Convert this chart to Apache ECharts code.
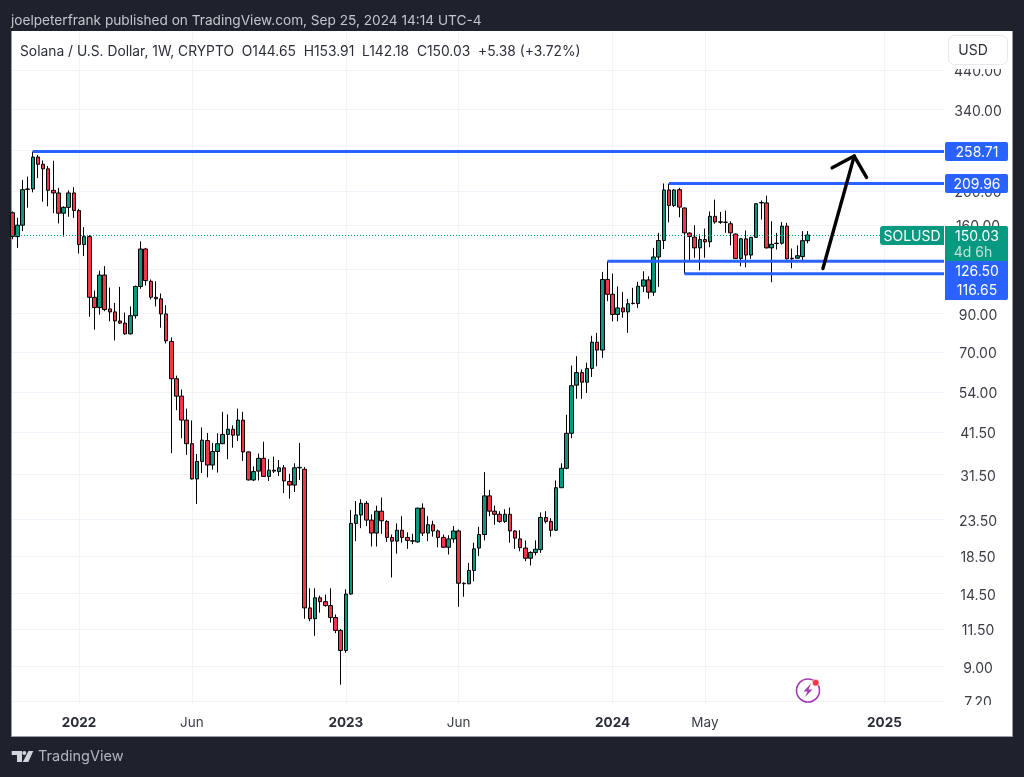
<!DOCTYPE html>
<html>
<head>
<meta charset="utf-8">
<style>
html,body{margin:0;padding:0;background:#1e222d;width:1024px;height:777px;overflow:hidden}
#panel{position:absolute;left:11px;top:31px;width:1000px;height:705px;background:#fff;border:1px solid #9a9da6;border-top:none;border-right-color:#9a9da6}
#chart{position:absolute;left:0;top:0;width:1024px;height:777px}
</style>
<script src="https://cdn.jsdelivr.net/npm/echarts@6/dist/echarts.min.js"></script>
</head>
<body>
<div id="panel"></div>
<div id="chart"></div>
<script>
// Weeks are counted from the first week of January 2022.
const firstWeek = -13;
const opens = [
173.5,148.5,160,202,202.6,249.4,238,231,200.8,197.4,
173,179.7,197.4,176,141,148.5,100,93.5,115.6,92.7,
90.9,85.7,84.5,78.8,88.7,107.3,137,111,100,99,
89.7,75,58.8,52.5,44.9,38.5,30.6,34.3,39.3,33.5,
36.6,38.5,40.9,42.3,40.7,44.9,36.5,30.4,32.2,35,
31.1,32.4,32.1,32.9,30.1,29.4,32.9,32.6,13.2,12.3,
14.1,13.75,13.4,12.4,11.4,10,14.45,22.9,24.2,26.1,
23.4,21.5,24.8,23.2,20.9,20.4,21.9,20.9,20.4,20.3,
25.3,21.5,22.7,21.8,20.9,19.6,20.7,21.8,15.5,15.45,
16.85,19.5,21.3,27.4,24.8,24.3,23.2,24.3,21.8,20.7,
19.5,18.25,18.95,19.3,23.8,23.2,21.9,28.9,32.8,41.2,
56.4,61.2,57.5,62.9,74.6,70.9,112.3,102,89.4,93.3,
90.9,96,96,107.5,112,103.4,130,144.8,201.3,182,
201.6,179,152,148,138,145.7,143.6,169.5,163.5,163.2,
161.5,151,128.7,146.4,131.7,147.8,185.5,185,138,142,
142.2,159,128.5,129,130.4,144.65];
const closes = [
148.7,160,201.7,202.6,249.4,238,231,200.8,197.4,173,
179.7,197.4,176,141,148.5,100,93.5,115.6,92.3,90.9,
85.7,84.5,78.8,88.7,107.3,137,111.5,100,99,89.7,
75.3,58.8,52.5,44.9,38.5,30.6,34.3,39.4,33.5,36.6,
38.5,40.9,42.3,40.7,44.9,36.5,30.4,32.1,35,31.1,
32.4,32.2,32.9,30.2,29.4,32.9,33,13.2,12.3,14.1,
13.75,13.4,12.4,11.4,10,14.45,22.9,24.2,26.1,23.4,
21.5,24.8,23.3,20.9,20.4,21.9,20.9,20.5,20.45,25.3,
21.5,22.7,21.8,20.9,19.6,20.7,21.8,15.5,15.45,16.85,
19.4,21.3,27.4,24.8,24.3,23.2,24.3,21.8,20.8,19.55,
18.25,18.95,19.35,23.8,23.2,21.9,28.9,32.8,41.2,56.2,
61.2,57.5,62.9,74.6,70.9,112.3,102,89.4,93.3,90.9,
95.9,96.2,107.5,112,103.4,130,144.8,201.3,182,201.3,
180,152.2,148.7,138,145.7,143.6,169.5,163.5,163.2,163,
152.2,128.7,146.4,131.7,147.8,184,185,138,141.3,142.3,
159,128.5,129,131.1,144.65,150.03];
const lows = [
146,138,153.9,179.3,198.2,217.5,186.5,181,173,161.8,
148.5,169,167.8,133,130.8,88,81,89.3,91.3,85.5,
75.5,84,78.4,78.4,87,105.7,108,98.6,94.2,82,
74,36.2,47.9,39.9,35.8,30.5,26,31.8,30.9,32.5,
31.9,38.4,34.8,37.5,39.2,34.4,30.3,30.2,30.3,31,
30.2,31.8,31.2,27.9,26.9,28.1,30.4,12.3,12.1,11,
12.8,13.3,12,11.2,8,9.85,14.4,20.4,22.2,22.5,
19.7,19.7,21.4,20.3,16.1,18.8,20.2,19.4,20,20.2,
21.1,20.4,21,19.6,19.5,18.7,20.2,13.3,14.2,15.4,
15.7,18.5,20.5,24,22.7,23,23,20.2,19.4,19.1,
17.9,17.4,18.6,18.9,22.9,21,21.8,28.9,32.6,39.9,
51.6,51.6,53.6,59.5,63.8,67.4,97.5,85.5,85.5,87.5,
79.3,95.4,93.3,103.6,99,100.9,107,137,163,180,
168.5,116.65,127.3,129.4,119.3,129.4,138.6,161.5,161.5,152.2,
140.2,128.5,122.4,121.6,128.5,147.4,166,137.4,110.3,136.5,
141,127.9,120.8,129.4,127.3,142.18];
const highs = [
175,167.8,215,219.5,258.71,253,244,235.4,243.5,204,
181,200.8,205,178,158,150,104.5,119,122.5,106.5,
96.4,107,90.5,94.2,108,144,138,112.3,111,102.5,
95,77,60,54.8,48.4,44.8,36,42.8,41.3,38.7,
41.2,47.4,46.6,43.4,48.4,47.4,36.6,33.2,36.1,39,
34.8,35.4,34.6,33.5,31.6,33.9,38.7,33.1,15,15,
14.3,14.4,15,12.65,11.5,14.9,25,26.5,26.8,26.5,
24.3,25.7,27.1,23.4,21.3,22.9,24,21.6,21.4,25.35,
26.1,24,23.3,22,21.3,21.2,22.5,22,15.6,17.7,
20.2,22.4,32,28.5,25.7,24.8,25.1,25.4,21.9,21.9,
20.5,19.1,20.5,24.6,24.8,23.7,30.3,33.9,46.5,64.1,
68.1,62.5,65.3,77.8,79.3,118,126.5,116.7,107.3,103.6,
99,106.4,110.6,118.5,114.7,138,152.2,209.96,210,202.6,
204,179.5,152.7,160,150.8,156.5,175,189,174.4,176,
164.2,151.5,147.3,154.6,148,184.8,188,194,164.2,152.2,
163.2,162.5,137.4,140.2,153.9,153.91];

const priceTicks = [440,340,200,160,90,70,54,41.5,31.5,23.5,18.5,14.5,11.5,9,7.2];
const gridPrices = [440,340,260,200,160,120,90,70,54,41.5,31.5,23.5,18.5,14.5,11.5,9,7.2];
const timeTickWeeks = [0,22,52,74,104,122,157];
const timeTickLabels = ['2022','Jun','2023','Jun','2024','May','2025'];
const levelWeeks = [-9,115,103,118];
const levelPrices = [258.71,209.96,126.5,116.65];
const lastPrice = 150.03;
const arrowTip = [151.1,251];
const arrowEnds = [[145,120.6],[146.8,232.5],[153.5,218.4]];

const FONT = 'Inter, "Noto Sans", sans-serif';
const BLUE = '#2962ff', TEAL = '#089981', RED = '#f23645';
const candles = opens.map((o,i)=>[firstWeek+i,o,closes[i],lows[i],highs[i]]);
const weekLabel = Object.fromEntries(timeTickWeeks.map((w,i)=>[w,timeTickLabels[i]]));

function tag(x,y,w,h,fill,r){return {type:'rect',z:100,shape:{x,y,width:w,height:h,r:r||0},style:{fill}};}
function txt(x,y,text,opt){return {type:'text',z:101,x,y,style:Object.assign({text,fill:'#fff',font:'14px '+FONT,textAlign:'center',textVerticalAlign:'middle'},opt||{})};}

const chart = echarts.init(document.getElementById('chart'),null,{renderer:'canvas'});
chart.setOption({
  animation:false,
  backgroundColor:'transparent',
  textStyle:{fontFamily:FONT},
  grid:{left:12,top:32,width:932,height:673},
  xAxis:{type:'value',min:-13.06,max:168.6,
    axisLine:{show:false},
    axisTick:{show:false,customValues:timeTickWeeks},
    splitLine:{show:true,lineStyle:{color:'#f0f3fa',width:1}},
    axisLabel:{customValues:timeTickWeeks,margin:11,color:'#2e3038',fontSize:14,
      formatter:v=>{const s=weekLabel[v];return /^\d/.test(s)?'{b|'+s+'}':'{n|'+s+'}';},
      rich:{b:{fontWeight:'bold',fontSize:13.5,color:'#2a2e39',fontFamily:FONT},n:{fontSize:13.5,color:'#3a3e4a',fontFamily:FONT}}}
  },
  yAxis:{type:'log',logBase:10,min:7.01,max:563.7,position:'right',
    axisLine:{show:false},
    axisTick:{show:false,customValues:gridPrices},
    splitLine:{show:true,lineStyle:{color:'#f0f3fa',width:1}},
    axisLabel:{customValues:priceTicks,margin:34,align:'center',verticalAlign:'middle',color:'#3a3d46',fontSize:14,fontFamily:FONT,
      formatter:v=>'{p|'+Number(v).toFixed(2)+'}',
      rich:{p:{color:'#3a3d46',fontSize:14,fontFamily:FONT,padding:[4,0,0,0]}}}
  },
  series:[
    {type:'candlestick',name:'SOLUSD',data:candles,encode:{x:0,y:[1,2,3,4]},barWidth:4,large:false,
      itemStyle:{color:TEAL,color0:RED,borderColor:'#000',borderColor0:'#000',borderColorDoji:'#000',borderWidth:1}},
    {type:'custom',name:'last',z:3,data:[[firstWeek,lastPrice]],encode:{x:0,y:1},silent:true,
      renderItem:(p,api)=>{const a=api.coord([api.value(0),api.value(1)]);const y=Math.round(a[1])+0.5;
        return {type:'line',shape:{x1:12,y1:y,x2:880,y2:y},style:{stroke:TEAL,lineWidth:1,lineDash:[1,2]}};}},
    {type:'custom',name:'levels',z:4,data:levelWeeks.map((w,i)=>[w,levelPrices[i]]),encode:{x:0,y:1},silent:true,
      renderItem:(p,api)=>{const a=api.coord([api.value(0),api.value(1)]);const e=p.coordSys.x+p.coordSys.width;
        return {type:'line',shape:{x1:a[0],y1:a[1],x2:e,y2:a[1]},style:{stroke:BLUE,lineWidth:3}};}},
    {type:'custom',name:'arrow',z:5,data:arrowEnds,encode:{x:0,y:1},silent:true,
      renderItem:(p,api)=>{const a=api.coord([api.value(0),api.value(1)]);const t=api.coord(arrowTip);
        return {type:'line',shape:{x1:a[0],y1:a[1],x2:t[0],y2:t[1]},style:{stroke:'#000',lineWidth:3.4,lineCap:'round'}};}}
  ],
  graphic:{elements:[
    txt(11,21,'joelpeterfrank published on TradingView.com, Sep 25, 2024 14:14 UTC-4',{fill:'#c3c6ce',textAlign:'left',font:'13.65px '+FONT}),
    txt(20,52,'Solana / U.S. Dollar, 1W, CRYPTO  O144.65  H153.91  L142.18  C150.03  +5.38 (+3.72%)',{fill:'#2a2e39',textAlign:'left',font:'13.82px '+FONT}),
    tag(945,32,66,37,'#fff'),
    {type:'rect',z:102,shape:{x:948.5,y:35.5,width:59,height:29,r:6},style:{fill:'none',stroke:'#e6e8ee',lineWidth:1}},
    txt(973,51,'USD',{fill:'#2a2e39'}),
    tag(944.5,705,66,12,'#fff'),
    tag(945,142,63,19,BLUE,2), txt(977,153,'258.71'),
    tag(945,174,63,19,BLUE,2), txt(977,185,'209.96'),
    tag(945,226,63,35,TEAL,[0,2,0,0]), txt(977,237,'150.03'), txt(973,253,'4d 6h',{fill:'#bfe3da'}),
    tag(880,226,64,19,TEAL,[3,0,0,3]), txt(912,237,'SOLUSD'),
    tag(945,261,63,39,BLUE,[0,0,2,0]), txt(977,272,'126.50'), txt(977,291,'116.65'),
    {type:'arc',z:100,shape:{cx:808,cy:690.5,r:11.5,startAngle:0,endAngle:Math.PI*2},style:{fill:'none',stroke:'#a33ab5',lineWidth:1.6}},
    {type:'polygon',z:101,shape:{points:[[811,683.5],[803.5,691.5],[807.5,691.5],[805,697],[812.5,689.5],[808.5,689.5]]},style:{fill:'#a33ab5'}},
    {type:'circle',z:102,shape:{cx:815.7,cy:682.7,r:3.4},style:{fill:'#f23645',stroke:'#fff',lineWidth:0.6}},
    {type:'polygon',z:101,shape:{points:[[11.7,751],[22,751],[22,762],[17,762],[17,755],[11.7,755]]},style:{fill:'#d1d4dc'}},
    {type:'circle',z:101,shape:{cx:24.3,cy:753,r:2},style:{fill:'#d1d4dc'}},
    {type:'polygon',z:101,shape:{points:[[28.5,751],[33.3,751],[28.3,762],[22.8,762]]},style:{fill:'#d1d4dc'}},
    txt(38,756.5,'TradingView',{fill:'#b2b5be',textAlign:'left',font:'14.5px '+FONT})
  ]}
});
</script>
</body>
</html>
